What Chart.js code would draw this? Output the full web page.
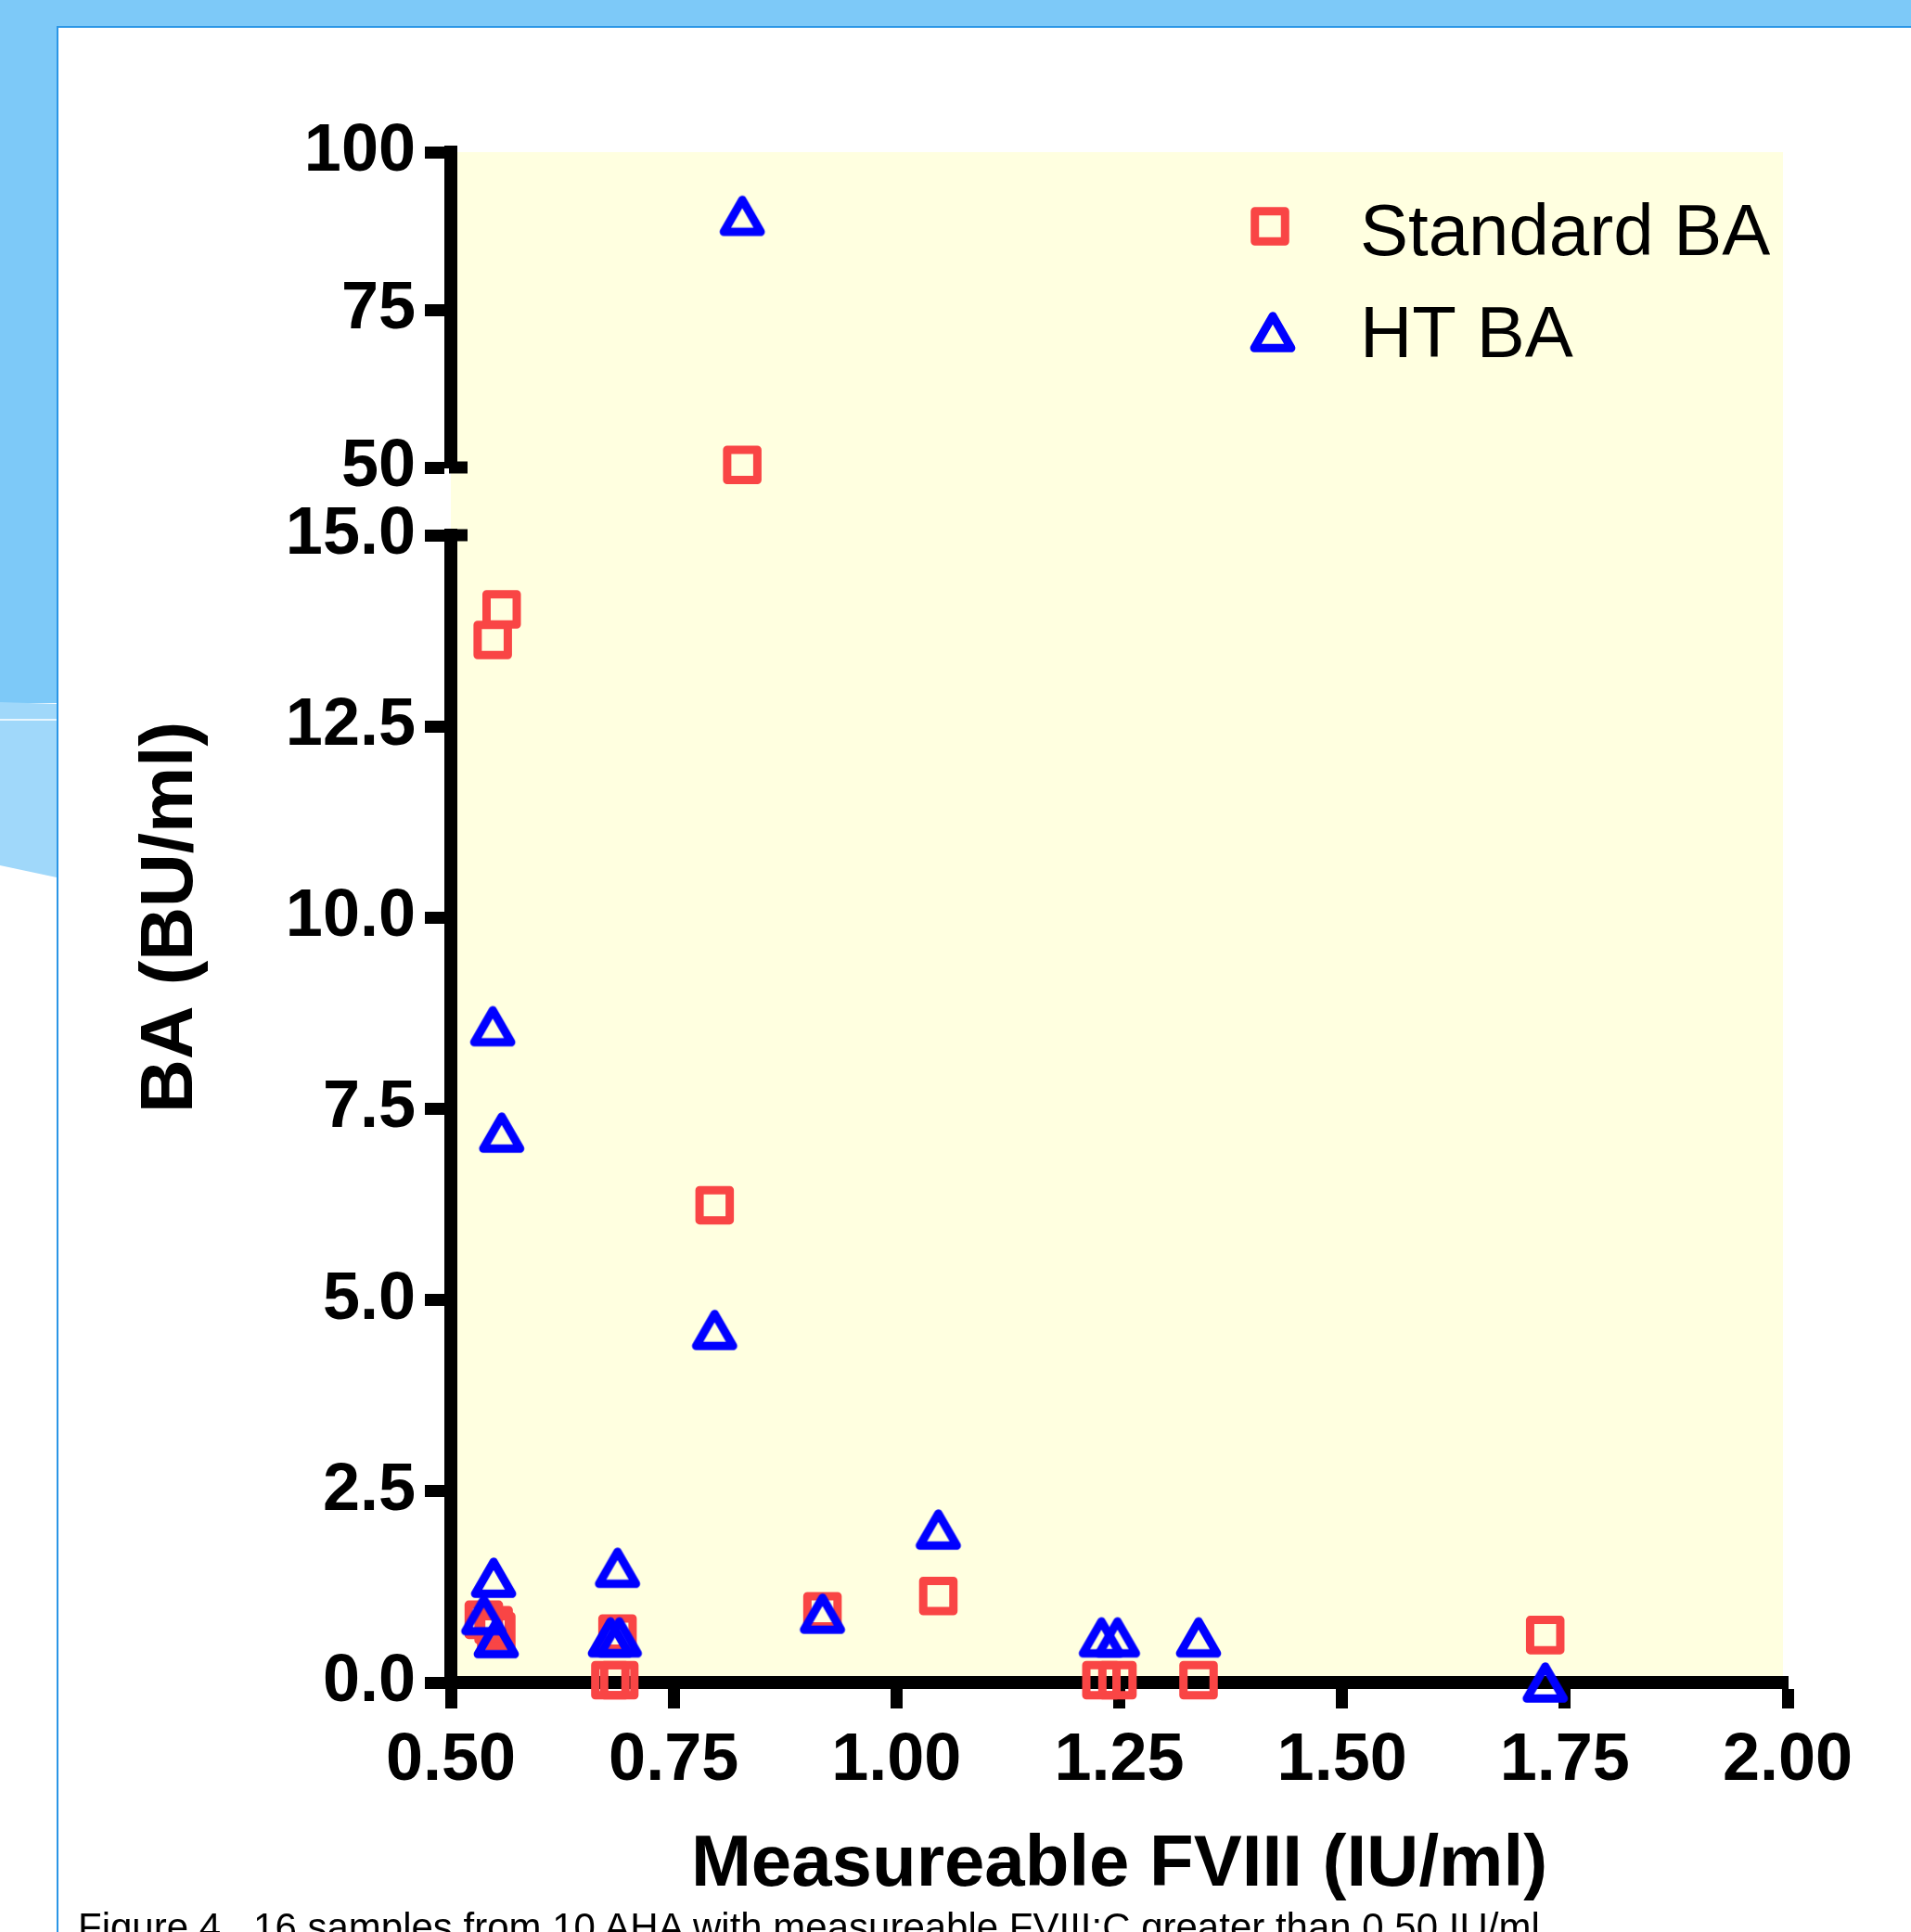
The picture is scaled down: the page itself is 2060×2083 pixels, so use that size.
<!DOCTYPE html>
<html>
<head>
<meta charset="utf-8">
<script src="https://cdn.jsdelivr.net/npm/chart.js@4.4.1/dist/chart.umd.min.js"></script>
<style>
  html, body { margin: 0; padding: 0; }
  body { width: 2060px; height: 2083px; position: relative; overflow: hidden; background: #fff;
         font-family: "Liberation Sans", Arial, sans-serif; }
  .band { position: absolute; background: #7dc9f8; }
  #wave { position: absolute; left: 0; top: 757px; width: 61px; height: 190px; background: #a0d8fa;
          clip-path: polygon(0 0, 100% 2px, 100% 189px, 0 176px); }
  #waveLine { position: absolute; left: 0; top: 775px; width: 61px; height: 2px; background: #e8f6fe; }
  #panel { position: absolute; left: 61px; top: 28px; right: 0; bottom: 0; background: #fff;
           border-left: 2px solid #2b96e6; border-top: 2px solid #2b96e6; }
  #chart { position: absolute; left: 0; top: 0; }
  #caption { position: absolute; left: 84px; top: 2057px; font-size: 42px; line-height: 42px;
             white-space: nowrap; color: #000; }
</style>
</head>
<body>
<div class="band" style="left:0;top:0;width:2060px;height:28px"></div>
<div class="band" style="left:0;top:0;width:61px;height:758px"></div>
<div id="wave"></div>
<div id="waveLine"></div>
<div id="panel"></div>
<canvas id="chart" width="2060" height="2083"></canvas>
<div id="caption">Figure 4 . 16 samples from 10 AHA with measureable FVIII:C greater than 0.50 IU/ml</div>

<script>
// one entry per sample
const fviii      = [0.827, 0.557, 0.547, 0.796, 1.047, 0.917, 1.728, 1.230, 1.248, 1.339, 0.679, 0.687, 0.689, 0.537, 0.548, 0.551];
const standardBA = [50.4, 14.03, 13.63, 6.24, 1.13, 0.93, 0.62, 0.03, 0.03, 0.03, 0.03, 0.64, 0.03, 0.82, 0.75, 0.67];
const htBA       = [89.9, 7.19, 8.58, 4.61, 2.0, 0.90, 0.0, 0.59, 0.59, 0.59, 0.59, 1.50, 0.59, 0.88, 1.37, 0.58];

const xTicks = [0.5, 0.75, 1.0, 1.25, 1.5, 1.75, 2.0];
const lowerTicks = [0, 2.5, 5, 7.5, 10, 12.5, 15];
const upperTicks = [50, 75, 100];

const RED = "#f94545";
const BLUE = "#0000ff";
const FONT = '"Liberation Sans", Arial, sans-serif';

// open triangle centred on its bounding box (as the original plot does)
function triangleImage(color) {
    const c = document.createElement("canvas");
    c.width = 56;
    c.height = 52;
    const g = c.getContext("2d");
    g.strokeStyle = color;
    g.lineWidth = 9;
    g.lineJoin = "round";
    g.beginPath();
    g.moveTo(28, 8.75);
    g.lineTo(28 + 19.9, 43.25);
    g.lineTo(28 - 19.9, 43.25);
    g.closePath();
    g.stroke();
    return c;
}
const triBlue = triangleImage(BLUE);

function pts(ys, lo, hi) {
    return fviii.map((x, i) => ({ x: x, y: ys[i] })).filter(p => p.y >= lo && p.y <= hi);
}

function series(label, ys, axis, style, color, order) {
    const lo = axis === "y" ? lowerTicks[0] : upperTicks[0];
    const hi = axis === "y" ? lowerTicks[lowerTicks.length - 1] : upperTicks[upperTicks.length - 1];
    return {
        label: label,
        data: pts(ys, lo, hi),
        yAxisID: axis,
        showLine: false,
        clip: false,
        order: order,
        pointStyle: style,
        pointRadius: 23,
        pointHoverRadius: 23,
        pointBorderWidth: 9,
        pointBorderColor: color,
        pointBackgroundColor: "rgba(0,0,0,0)"
    };
}

const tickFont = { family: FONT, size: 72, weight: "bold", lineHeight: 1 };
const gridOpts = { display: true, drawOnChartArea: false, drawTicks: true, tickLength: 28, tickWidth: 13, tickColor: "#000" };
const borderOpts = { display: true, color: "#000", width: 14 };

const legendItems = [
    { text: "Standard BA", style: "rect", color: RED, dx: 883, dy: 80, ty: 111 },
    { text: "HT BA", style: triBlue, color: BLUE, dx: 886, dy: 194, ty: 221 }
];

const paper = {
    id: "paper",
    beforeDraw(chart) {
        const { ctx, chartArea: a } = chart;
        ctx.save();
        ctx.fillStyle = "#ffffe0";
        ctx.fillRect(a.left, a.top, a.right - a.left - 5, a.bottom - a.top);
        ctx.restore();
    },
    beforeDatasetsDraw(chart) {
        chart.ctx.save();
        chart.ctx.lineJoin = "round";
    },
    afterDatasetsDraw(chart) {
        chart.ctx.restore();
    },
    afterDraw(chart) {
        const { ctx, chartArea: a } = chart;
        const lo = chart.scales.y, hi = chart.scales.y2;
        ctx.save();
        // break caps on the y axis
        ctx.strokeStyle = "#000";
        ctx.lineWidth = 13;
        [[hi, upperTicks[0]], [lo, lowerTicks[lowerTicks.length - 1]]].forEach(([s, v]) => {
            const py = s.getPixelForValue(v);
            ctx.beginPath();
            ctx.moveTo(s.right - 2, py);
            ctx.lineTo(s.right + 18, py);
            ctx.stroke();
        });
        // legend
        ctx.lineJoin = "round";
        ctx.lineWidth = 9;
        ctx.font = "78px " + FONT;
        ctx.fillStyle = "#000";
        ctx.textBaseline = "alphabetic";
        legendItems.forEach(it => {
            const x = a.left + it.dx, y = a.top + it.dy;
            if (it.style === "rect") {
                const s = 23 * Math.SQRT1_2;
                ctx.strokeStyle = it.color;
                ctx.strokeRect(x - s, y - s, 2 * s, 2 * s);
            } else {
                ctx.drawImage(it.style, x - it.style.width / 2, y - it.style.height / 2);
            }
            ctx.fillText(it.text, a.left + 980, a.top + it.ty);
        });
        ctx.restore();
    }
};

new Chart(document.getElementById("chart").getContext("2d"), {
    type: "scatter",
    data: {
        datasets: [
            series("HT BA", htBA, "y", triBlue, BLUE, 1),
            series("HT BA", htBA, "y2", triBlue, BLUE, 1),
            series("Standard BA", standardBA, "y", "rect", RED, 2),
            series("Standard BA", standardBA, "y2", "rect", RED, 2)
        ]
    },
    options: {
        responsive: false,
        animation: false,
        devicePixelRatio: 1,
        events: [],
        layout: { padding: { top: 164, right: 133, bottom: 0, left: 0 } },
        plugins: { legend: { display: false }, tooltip: { enabled: false } },
        scales: {
            x: {
                type: "linear", position: "bottom", min: 0.5, max: 2.0, z: 1,
                afterBuildTicks: s => { s.ticks = xTicks.map(v => ({ value: v })); },
                afterFit: s => { s.height = 269; },
                ticks: { callback: v => v.toFixed(2), font: tickFont, color: "#000", padding: 21, maxRotation: 0, autoSkip: false },
                grid: gridOpts,
                border: borderOpts,
                title: { display: true, text: "Measureable FVIII (IU/ml)", color: "#000",
                         font: { family: FONT, size: 78, weight: "bold", lineHeight: 1.2 }, padding: { top: 0, bottom: 25 } }
            },
            y2: {
                type: "linear", position: "left", stack: "ba", stackWeight: 340, weight: 3, min: 50, max: 100,
                afterBuildTicks: s => { s.ticks = upperTicks.map(v => ({ value: v })); },
                afterFit: s => { s.width = 236; },
                ticks: { callback: v => v.toFixed(0), font: tickFont, color: "#000", padding: 10, autoSkip: false },
                grid: gridOpts,
                border: borderOpts
            },
            yGap: {
                type: "linear", position: "left", stack: "ba", stackWeight: 73, weight: 2, display: false
            },
            y: {
                type: "linear", position: "left", stack: "ba", stackWeight: 1237, weight: 1, min: 0, max: 15,
                afterBuildTicks: s => { s.ticks = lowerTicks.map(v => ({ value: v })); },
                afterFit: s => { s.width = 236; },
                ticks: { callback: v => v.toFixed(1), font: tickFont, color: "#000", padding: 10, autoSkip: false },
                grid: gridOpts,
                border: borderOpts
            },
            yTitle: {
                type: "linear", position: "left", weight: 10,
                afterFit: s => { s.width = 250; },
                ticks: { display: false },
                grid: { display: false },
                border: { display: false },
                title: { display: true, text: "BA (BU/ml)", color: "#000",
                         font: { family: FONT, size: 80, weight: "bold", lineHeight: 1.2 }, padding: { top: 137, bottom: 0 } }
            }
        }
    },
    plugins: [paper]
});
</script>
</body>
</html>
